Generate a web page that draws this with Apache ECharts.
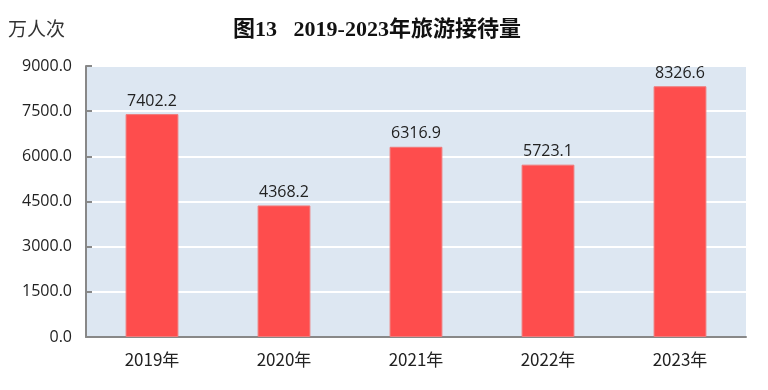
<!DOCTYPE html>
<html><head><meta charset="utf-8">
<script src="https://cdn.jsdelivr.net/npm/echarts@6/dist/echarts.min.js"></script>
<style>html,body{margin:0;padding:0;background:#fff}#c{width:768px;height:390px}</style>
</head><body><div id="c"></div>
<script>
const categories = ['2019年','2020年','2021年','2022年','2023年'];
const values = [7402.2, 4368.2, 6316.9, 5723.1, 8326.6];
const titleText = '图13   2019-2023年旅游接待量';
const unitText = '万人次';

const chart = echarts.init(document.getElementById('c'));
chart.setOption({
  animation: false,
  backgroundColor: '#fff',
  title: {
    text: titleText, left: 372, textAlign: 'center', top: 14,
    textStyle: {fontFamily: '"Liberation Serif","Noto Sans CJK SC",serif', fontWeight: 'bold', fontSize: 22, color: '#111'}
  },
  graphic: [{
    type: 'text', left: 8, top: 19,
    style: {text: unitText, fontFamily: '"Noto Sans CJK SC",sans-serif', fontSize: 19, fill: '#333'}
  }],
  grid: {left: 86, right: 22, top: 66, bottom: 53, backgroundColor: '#dde7f2', show: true, borderWidth: 0},
  xAxis: {
    type: 'category', data: categories,
    axisLine: {lineStyle: {color: '#888', width: 2}},
    axisTick: {inside: true, length: 6, lineStyle: {color: '#888', width: 2}},
    axisLabel: {margin: 14, fontSize: 17, color: '#222', fontFamily: '"Noto Sans CJK SC",sans-serif'}
  },
  yAxis: {
    type: 'value', min: 0, max: 9000, interval: 1500,
    axisLine: {show: true, lineStyle: {color: '#888', width: 2}},
    axisTick: {show: true, inside: true, length: 6, lineStyle: {color: '#888', width: 2}},
    axisLabel: {margin: 14, fontSize: 16, color: '#222', fontFamily: '"Open Sans","Liberation Sans",sans-serif',
      formatter: v => v.toFixed(1)},
    splitLine: {lineStyle: {color: '#ffffff', width: 2}}
  },
  series: [{
    type: 'bar', data: values, barWidth: '40%',
    itemStyle: {color: '#fe4d4d', borderColor: '#f07a7a', borderWidth: 1},
    label: {show: true, position: 'top', distance: 5, fontSize: 16, color: '#222',
      fontFamily: '"Open Sans","Liberation Sans",sans-serif', formatter: p => p.value.toFixed(1)}
  }]
});
</script></body></html>
